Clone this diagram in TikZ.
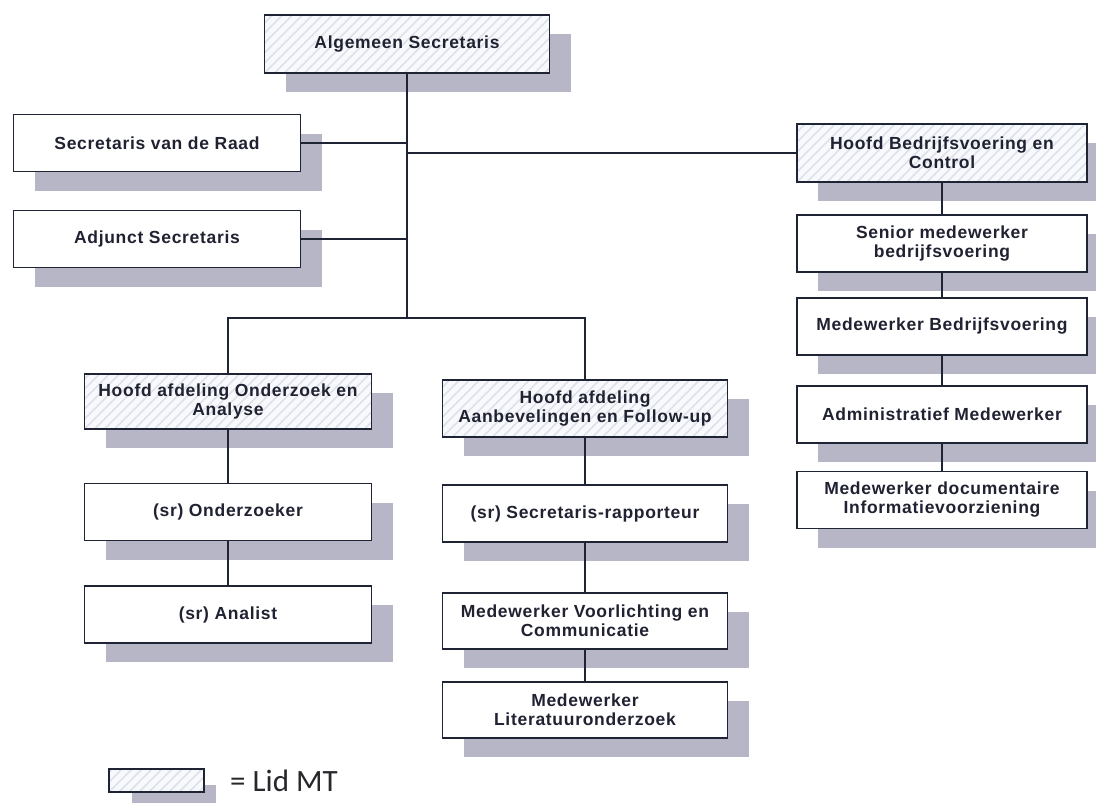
\documentclass[tikz,border=0pt]{standalone}
\usepackage{fontspec}
\setmainfont{Liberation Sans}
\newfontfamily\boxfont{Liberation Sans}[LetterSpace=4]
\newfontfamily\legendfont{Carlito}
\usetikzlibrary{shadows}
\definecolor{linec}{RGB}{30,36,52}
\definecolor{textc}{RGB}{32,34,50}
\definecolor{shadowc}{RGB}{182,182,198}
\definecolor{hatchbg}{RGB}{247,249,252}
\definecolor{hatchc}{RGB}{222,225,233}
\begin{document}
\begin{tikzpicture}[x=1pt,y=-1pt,
  box/.style={drop shadow={shadow xshift=21pt, shadow yshift=-19pt, fill=shadowc, opacity=1, draw=none},
    draw=linec, line width=1.4pt, fill=white, minimum width=287pt, minimum height=57pt,
    inner sep=2pt, align=center, text=textc, font=\boxfont\bfseries\fontsize{17.5}{19}\selectfont},
  hatched/.style={fill=hatchbg, path picture={
      \foreach \k in {0,...,42}{
        \draw[hatchc, line width=1.5pt] ([xshift={\k*10pt-90pt}]path picture bounding box.south west) -- ++(90pt,90pt);
      }}},
  midw/.style={minimum width=285pt},
  rightw/.style={minimum width=290pt},
  conn/.style={draw=linec, line width=1.4pt}]
\fill[white] (0,0) rectangle (1096,803);
\useasboundingbox (0,0) rectangle (1096,803);

% top
\node[box,hatched,midw,minimum height=58pt] (gen) at (407,44) {Algemeen Secretaris};
\node[box] (raad) at (157,143) {Secretaris van de Raad};
\node[box] (adj) at (157,239) {Adjunct Secretaris};

% right column
\node[box,hatched,rightw,minimum height=58pt] (hbc) at (942,153) {Hoofd Bedrijfsvoering en\\Control};
\node[box,rightw] (senior) at (942,243.5) {Senior medewerker\\bedrijfsvoering};
\node[box,rightw] (mbv) at (942,326.5) {Medewerker Bedrijfsvoering};
\node[box,rightw] (adm) at (942,414.5) {Administratief Medewerker};
\node[box,rightw] (doc) at (942,500) {Medewerker documentaire\\Informatievoorziening};

% left column
\node[box,hatched,minimum height=55pt] (hoa) at (228,401.5) {Hoofd afdeling Onderzoek en\\Analyse};
\node[box] (ond) at (228,512) {(sr) Onderzoeker};
\node[box] (ana) at (228,614.5) {(sr) Analist};

% middle column
\node[box,hatched,midw] (haf) at (585,408.5) {Hoofd afdeling\\Aanbevelingen en Follow-up};
\node[box,midw] (sec) at (585,513.5) {(sr) Secretaris-rapporteur};
\node[box,midw,minimum height=56pt] (mvc) at (585,621) {Medewerker Voorlichting en\\Communicatie};
\node[box,midw,minimum height=56pt] (lit) at (585,710) {Medewerker\\Literatuuronderzoek};

% connectors
\coordinate (jb) at (407,318);
\draw[conn] (gen.south) -- (jb);
\draw[conn] (raad.east) -- (raad.east -| jb);
\draw[conn] (adj.east) -- (adj.east -| jb);
\draw[conn] (hbc.west) -- (hbc.west -| jb);
\draw[conn] (hoa.north) |- (jb) -| (haf.north);
\draw[conn] (hoa.south) -- (ond.north);
\draw[conn] (ond.south) -- (ana.north);
\draw[conn] (haf.south) -- (sec.north);
\draw[conn] (sec.south) -- (mvc.north);
\draw[conn] (mvc.south) -- (lit.north);
\draw[conn] (hbc.south) -- (senior.north);
\draw[conn] (senior.south) -- (mbv.north);
\draw[conn] (mbv.south) -- (adm.north);
\draw[conn] (adm.south) -- (doc.north);

% legend
\fill[shadowc] (132,785) rectangle (216,810);
\node[draw=linec, line width=1.2pt, hatched, minimum width=95pt, minimum height=23pt, inner sep=0pt] (leg) at (156.5,780.5) {};
\node[anchor=west, inner sep=0pt, text={rgb,255:red,40;green,40;blue,44}, font=\legendfont\fontsize{31}{31}\selectfont] (legt) at (230,781) {= Lid MT};
\end{tikzpicture}
\end{document}
